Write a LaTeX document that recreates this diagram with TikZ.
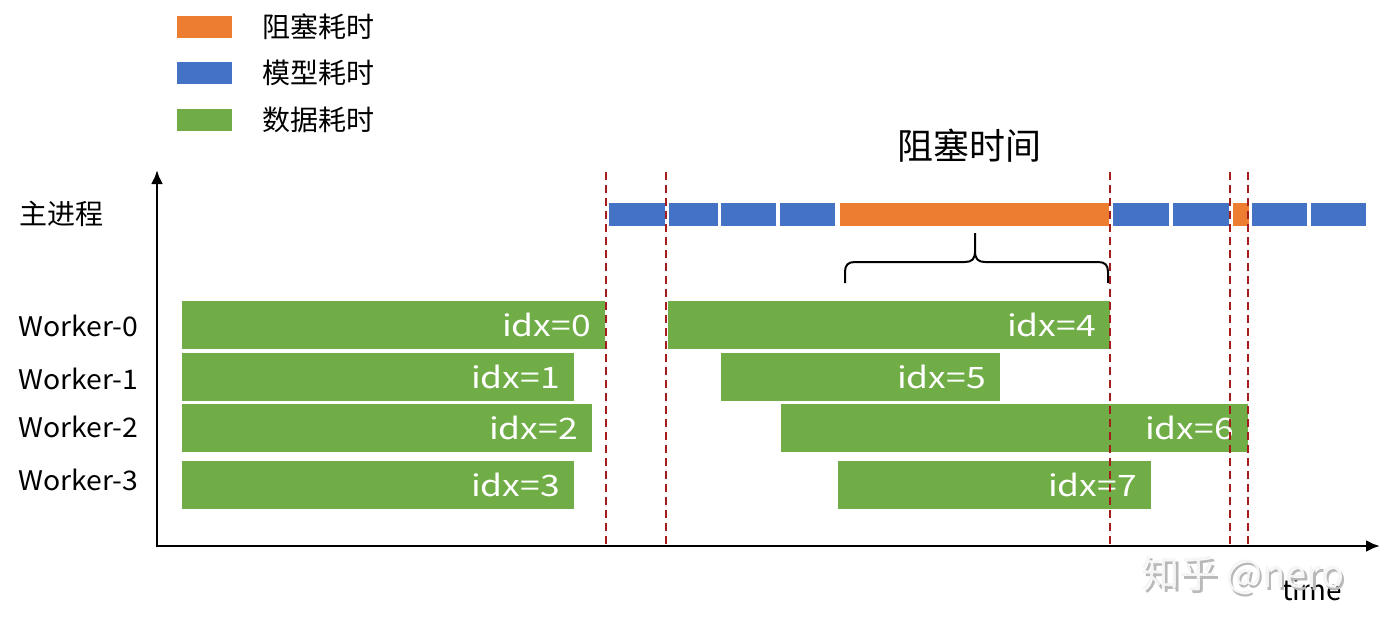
\documentclass[tikz,border=0pt]{standalone}
\usepackage{fontspec}
\setmainfont{Noto Sans CJK SC}
\newfontfamily\idxfont[FakeStretch=1.2]{Noto Sans CJK SC}
\newfontfamily\rowfont[FakeStretch=1.05]{Noto Sans CJK SC}
\usetikzlibrary{arrows.meta}
\definecolor{cOrange}{HTML}{ED7D31}
\definecolor{cBlue}{HTML}{4472C4}
\definecolor{cGreen}{HTML}{70AD47}
\definecolor{cRed}{RGB}{165,28,28}
\tikzset{
  seg/.style={draw=none, inner sep=0pt, outer sep=0pt, anchor=north west, minimum height=23pt},
  gbar/.style={fill=cGreen, draw=none, inner sep=0pt, outer sep=0pt, anchor=north west, minimum height=48pt},
  idxlab/.style={text=white, font=\idxfont\fontsize{29.5}{34}\selectfont, inner sep=0pt, anchor=east},
  rowlab/.style={font=\rowfont\fontsize{27}{32}\selectfont, inner sep=0pt, anchor=west},
  leglab/.style={font=\fontsize{28}{32}\selectfont, inner sep=0pt, anchor=west},
  legbox/.style={draw=none, inner sep=0pt, anchor=north west, minimum width=55pt, minimum height=22pt},
  redline/.style={draw=cRed, line width=2.2pt, dash pattern=on 8pt off 5pt},
  axis/.style={draw=black, line width=2.8pt, -{Latex[length=14pt,width=12pt]}},
}
\begin{document}
\begin{tikzpicture}[x=1pt,y=-1pt]
\useasboundingbox (0,0) rectangle (1391,633);
% legend
\node[legbox, fill=cOrange] (lo) at (177,16) {};
\node[legbox, fill=cBlue] (lb) at (177,62) {};
\node[legbox, fill=cGreen] (lg) at (177,109) {};
\node[leglab] (tlo) at (262,27) {阻塞耗时};
\node[leglab] (tlb) at (262,73) {模型耗时};
\node[leglab] (tlg) at (262,120) {数据耗时};
% title
\node[font=\fontsize{36}{40}\selectfont, inner sep=0pt] (title) at (969,146) {阻塞时间};
% row labels
\node[leglab] (lmain) at (19,214) {主进程};
\node[rowlab] (lw0) at (18,326) {Worker-0};
\node[rowlab] (lw1) at (18,379) {Worker-1};
\node[rowlab] (lw2) at (18,427) {Worker-2};
\node[rowlab] (lw3) at (18,480) {Worker-3};
% main process segments
\node[seg, fill=cBlue, minimum width=56pt] (m1) at (609,203) {};
\node[seg, fill=cBlue, minimum width=49pt] (m2) at (669,203) {};
\node[seg, fill=cBlue, minimum width=55pt] (m3) at (721,203) {};
\node[seg, fill=cBlue, minimum width=55pt] (m4) at (780,203) {};
\node[seg, fill=cOrange, minimum width=269pt] (m5) at (840,203) {};
\node[seg, fill=cBlue, minimum width=56pt] (m6) at (1113,203) {};
\node[seg, fill=cBlue, minimum width=56pt] (m7) at (1173,203) {};
\node[seg, fill=cOrange, minimum width=16pt] (m8) at (1233,203) {};
\node[seg, fill=cBlue, minimum width=55pt] (m9) at (1252,203) {};
\node[seg, fill=cBlue, minimum width=55pt] (m10) at (1311,203) {};
% brace
\draw[line width=2pt, line join=round] (845,283) -- (845,272) .. controls (845,265) and (848,262) .. (855,262) -- (965,262) .. controls (972,262) and (975,259) .. (975,251) -- (975,233);
\draw[line width=2pt, line join=round] (975,251) .. controls (975,259) and (978,262) .. (985,262) -- (1098,262) .. controls (1105,262) and (1108,265) .. (1108,272) -- (1108,283);
% worker bars
\node[gbar, minimum width=423pt] (b0) at (182,301) {};
\node[gbar, minimum width=442pt] (b4) at (668,301) {};
\node[gbar, minimum width=392pt] (b1) at (182,353) {};
\node[gbar, minimum width=279pt] (b5) at (721,353) {};
\node[gbar, minimum width=410pt] (b2) at (182,404) {};
\node[gbar, minimum width=467pt] (b6) at (781,404) {};
\node[gbar, minimum width=392pt] (b3) at (182,461) {};
\node[gbar, minimum width=313pt] (b7) at (838,461) {};
\node[idxlab] (t0) at ([xshift=-14pt]b0.east) {idx=0};
\node[idxlab] (t4) at ([xshift=-14pt]b4.east) {idx=4};
\node[idxlab] (t1) at ([xshift=-14pt]b1.east) {idx=1};
\node[idxlab] (t5) at ([xshift=-14pt]b5.east) {idx=5};
\node[idxlab] (t2) at ([xshift=-14pt]b2.east) {idx=2};
\node[idxlab] (t6) at ([xshift=-14pt]b6.east) {idx=6};
\node[idxlab] (t3) at ([xshift=-14pt]b3.east) {idx=3};
\node[idxlab] (t7) at ([xshift=-14pt]b7.east) {idx=7};
% axes
\coordinate (O) at (157,546);
\coordinate (ytop) at (157,170);
\coordinate (xend) at (1380,546);
\draw[axis] (O) -- (ytop);
\draw[axis] ([xshift=-1.4pt]O) -- (xend);
\node[font=\fontsize{28}{32}\selectfont, inner sep=0pt, anchor=base west] (time) at (1282,600) {time};
% watermark
\node[font=\fontsize{38}{42}\selectfont, inner sep=0pt, text=gray!55] (wm1) at (1245.5,577.5) {知乎 @nero};
\node[font=\fontsize{38}{42}\selectfont, inner sep=0pt, text=white!92!gray] (wm) at (1243,575) {知乎 @nero};
% dashed markers
\foreach \xx in {606,666,1110,1230,1248}
  \draw[redline] (\xx,172) -- (\xx,546);
\end{tikzpicture}
\end{document}
